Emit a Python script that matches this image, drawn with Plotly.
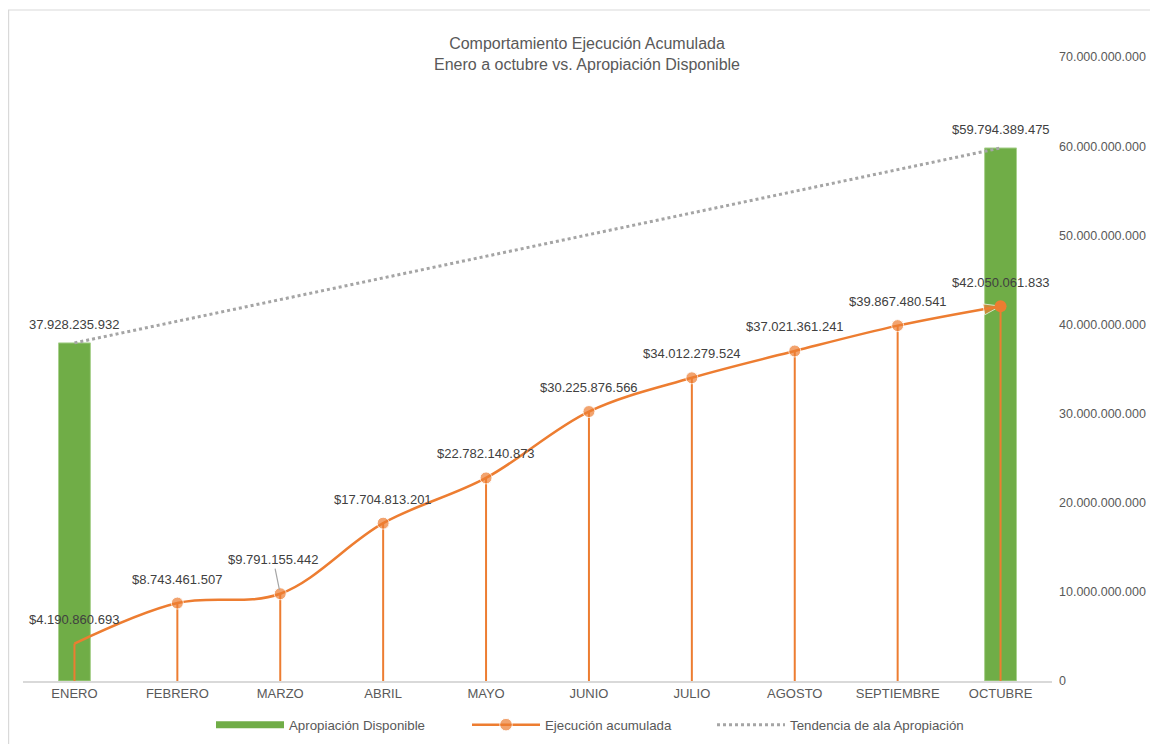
import plotly.graph_objects as go

meses = ["ENERO", "FEBRERO", "MARZO", "ABRIL", "MAYO", "JUNIO",
         "JULIO", "AGOSTO", "SEPTIEMBRE", "OCTUBRE"]
apropiacion = [37928235932, None, None, None, None, None, None, None, None, 59794389475]
ejecucion = [4190860693, 8743461507, 9791155442, 17704813201, 22782140873,
             30225876566, 34012279524, 37021361241, 39867480541, 42050061833]
tendencia = [37928235932, None, None, None, None, None, None, None, None, 59794389475]
etiquetas_apropiacion = ["37.928.235.932", "$59.794.389.475"]

VERDE = "#70AD47"
NARANJA = "#ED7D31"
GRIS = "#A5A5A5"
TXT = "#595959"
LBL = "#404040"
FONT = "Liberation Sans, Arial, sans-serif"


def fmt(v):
    return "$" + f"{v:,}".replace(",", ".")


fig = go.Figure()

fig.add_trace(go.Bar(
    x=meses, y=apropiacion, name="Apropiación Disponible",
    marker=dict(color=VERDE, line=dict(color="#A9D18E", width=1)),
    width=0.31, showlegend=False, legendgroup="apr",
))
# legend entry drawn as a wide green band (as in the reference)
fig.add_trace(go.Scatter(
    x=[None], y=[None], mode="lines", name="Apropiación Disponible",
    line=dict(color=VERDE, width=7), legendgroup="apr", legend="legend",
))

fig.add_trace(go.Scatter(
    x=meses, y=ejecucion, name="Ejecución acumulada",
    mode="lines+markers", legend="legend2",
    line=dict(color=NARANJA, width=2.5, shape="spline", smoothing=1),
    marker=dict(color=NARANJA, size=[12] * 9 + [18],
                symbol=["circle"] * 9 + ["arrow"], angleref="previous"),
    error_y=dict(type="data", symmetric=False, array=[0] * len(ejecucion),
                 arrayminus=ejecucion, color=NARANJA, thickness=2, width=0),
))

fig.add_trace(go.Scatter(
    x=[meses[-1]], y=[ejecucion[-1]], mode="markers", showlegend=False,
    marker=dict(color=NARANJA, size=12, symbol="circle"), hoverinfo="skip",
))

fig.add_trace(go.Scatter(
    x=meses, y=tendencia, name="Tendencia de ala Apropiación",
    mode="lines", connectgaps=True, legend="legend3",
    line=dict(color=GRIS, width=3, dash="dot"),
))

annotations = []
bar_idx = [i for i, v in enumerate(apropiacion) if v is not None]
for k, i in enumerate(bar_idx):
    annotations.append(dict(x=meses[i], y=apropiacion[i], text=etiquetas_apropiacion[k],
                            showarrow=False, yanchor="middle", yshift=18,
                            font=dict(size=13, color=LBL, family=FONT)))
for i, (m, v) in enumerate(zip(meses, ejecucion)):
    if m == "MARZO":
        annotations.append(dict(x=m, y=v, text=fmt(v), showarrow=True, arrowhead=0,
                                arrowcolor=GRIS, arrowwidth=1.2, ax=-7, ay=-34,
                                standoff=4, font=dict(size=13, color=LBL, family=FONT)))
    else:
        annotations.append(dict(x=m, y=v, text=fmt(v), showarrow=False,
                                yanchor="middle", yshift=24,
                                font=dict(size=13, color=LBL, family=FONT)))

# page has an 8px body margin: work in reference pixels, shift by 8
OFF = 8
FW, FH = 1158 - OFF, 752 - 2 * OFF
L, R, T, B = 23 - OFF, 1052 - OFF, 57 - OFF, 681 - OFF
W, H = R - L, B - T


def px_x(p):
    return (p - OFF - L) / W


def px_y(p):
    return (B - (p - OFF)) / H


def leg(xpx):
    return dict(orientation="h", x=px_x(xpx), xanchor="left",
                y=px_y(725), yanchor="middle",
                font=dict(size=13.3, color=TXT, family=FONT),
                itemwidth=68, bgcolor="rgba(0,0,0,0)")


fig.update_layout(
    width=FW, height=FH,
    margin=dict(l=L, r=FW - R, t=T, b=FH - B, autoexpand=False),
    paper_bgcolor="white", plot_bgcolor="white",
    separators=",.",
    font=dict(family=FONT, size=13, color=TXT),
    title=dict(text="Comportamiento Ejecución Acumulada<br>Enero a octubre vs. Apropiación Disponible",
               x=(587 - OFF) / FW, xref="container", xanchor="center",
               y=1 - (49 - OFF) / FH, yref="container", yanchor="middle",
               font=dict(size=16, color=TXT, family=FONT)),
    xaxis=dict(type="category", showgrid=False, showline=True, linecolor="#D9D9D9",
               linewidth=1.5, ticks="", tickfont=dict(size=13, color=TXT),
               tickangle=0, range=[-0.5, 9.5]),
    yaxis=dict(side="right", range=[0, 70e9], dtick=10e9, tickformat=",.0f",
               showgrid=False, zeroline=False, showline=False, ticks="",
               ticklabelstandoff=6,
               tickfont=dict(size=12.5, color=TXT)),
    showlegend=True,
    legend=leg(211),
    legend2=leg(467),
    legend3=leg(712),
    annotations=annotations,
    shapes=[dict(type="rect", xref="paper", yref="paper",
                 x0=px_x(OFF + 0.6), x1=px_x(1175), y0=px_y(770), y1=px_y(10),
                 line=dict(color="#D9D9D9", width=1.2), layer="below")],
)

fig.write_html("out.html")
